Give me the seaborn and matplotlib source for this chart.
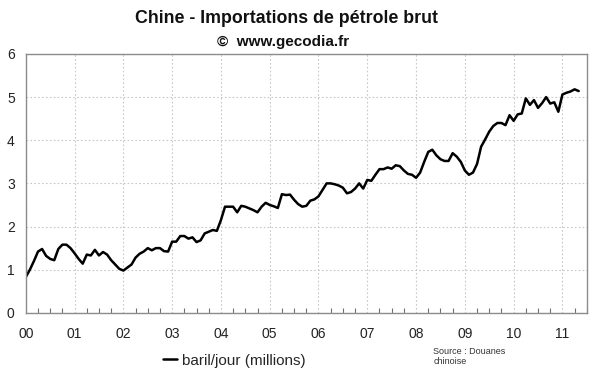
import numpy as np
import pandas as pd
import matplotlib
matplotlib.use("Agg")
import matplotlib.pyplot as plt
from matplotlib.ticker import MultipleLocator
import seaborn as sns

# monthly crude oil imports, Jan 2000 -> May 2011 (millions of barrels / day)
imports = [
    0.83, 1.00, 1.20, 1.42, 1.48, 1.32, 1.25, 1.22, 1.48, 1.58, 1.58, 1.50,   # 2000
    1.38, 1.25, 1.14, 1.35, 1.33, 1.46, 1.33, 1.41, 1.35, 1.22, 1.12, 1.02,   # 2001
    0.98, 1.05, 1.12, 1.28, 1.37, 1.42, 1.50, 1.45, 1.50, 1.50, 1.43, 1.42,   # 2002
    1.65, 1.65, 1.78, 1.78, 1.72, 1.75, 1.64, 1.68, 1.84, 1.88, 1.92, 1.90,   # 2003
    2.15, 2.46, 2.46, 2.46, 2.33, 2.48, 2.46, 2.42, 2.38, 2.33, 2.46, 2.55,   # 2004
    2.50, 2.47, 2.43, 2.75, 2.73, 2.74, 2.62, 2.52, 2.46, 2.48, 2.60, 2.63,   # 2005
    2.70, 2.85, 3.00, 3.00, 2.98, 2.95, 2.90, 2.77, 2.80, 2.88, 3.00, 2.88,   # 2006
    3.08, 3.06, 3.20, 3.33, 3.33, 3.37, 3.34, 3.42, 3.40, 3.30, 3.22, 3.20,   # 2007
    3.13, 3.25, 3.50, 3.73, 3.78, 3.65, 3.56, 3.52, 3.52, 3.70, 3.62, 3.50,   # 2008
    3.30, 3.20, 3.25, 3.45, 3.85, 4.02, 4.20, 4.33, 4.40, 4.40, 4.35, 4.58,   # 2009
    4.45, 4.60, 4.62, 4.97, 4.82, 4.93, 4.75, 4.86, 5.00, 4.85, 4.88, 4.66,   # 2010
    5.06, 5.10, 5.13, 5.18, 5.14,                                             # 2011
]
year_labels = ["00", "01", "02", "03", "04", "05", "06", "07", "08", "09", "10", "11"]

df = pd.DataFrame({"t": np.arange(len(imports)) / 12.0, "imports": imports})

sns.set_style("white")
plt.rcParams["font.family"] = ["Liberation Sans", "DejaVu Sans"]

fig = plt.figure(figsize=(6.0, 3.72), dpi=100)
ax = fig.add_axes([0.043, 0.159, 0.935, 0.696])

sns.lineplot(data=df, x="t", y="imports", color="black", linewidth=1.8,
             ax=ax, label="baril/jour (millions)")

ax.set_xlim(0, 11.5)
ax.set_ylim(0, 6)
ax.set_xticks(range(len(year_labels)))
ax.set_xticklabels(year_labels)
ax.xaxis.set_minor_locator(MultipleLocator(0.25))
ax.set_yticks(range(7))
ax.set_xlabel("")
ax.set_ylabel("")

ax.grid(True, which="major", color="#c8c8c8", linestyle=(0, (1.5, 2)), linewidth=0.8)
for s in ax.spines.values():
    s.set_color("#8c8c8c")
    s.set_linewidth(1.0)
ax.tick_params(axis="both", which="major", direction="out", length=5, width=0.9,
               color="#707070", labelsize=10, labelcolor="#222222")
ax.tick_params(axis="x", which="major", pad=5)
ax.tick_params(axis="y", which="major", pad=3)
ax.tick_params(axis="x", which="minor", direction="in", length=3.5, width=0.8,
               color="#707070", bottom=True)

ax.legend(loc="upper center", bbox_to_anchor=(0.372, -0.105), frameon=False,
          handlelength=0.9, handletextpad=0.35, fontsize=11)

fig.text(0.477, 0.95, "Chine - Importations de pétrole brut", ha="center",
         va="center", fontsize=12.8, fontweight="bold", color="#111111")
fig.text(0.472, 0.888, "©  www.gecodia.fr", ha="center", va="center",
         fontsize=11, fontweight="bold", color="#111111")
fig.text(0.722, 0.068, "Source : Douanes\nchinoise", ha="left", va="top",
         fontsize=6.5, color="#333333", linespacing=1.2)

fig.savefig("out.png", dpi=100)
